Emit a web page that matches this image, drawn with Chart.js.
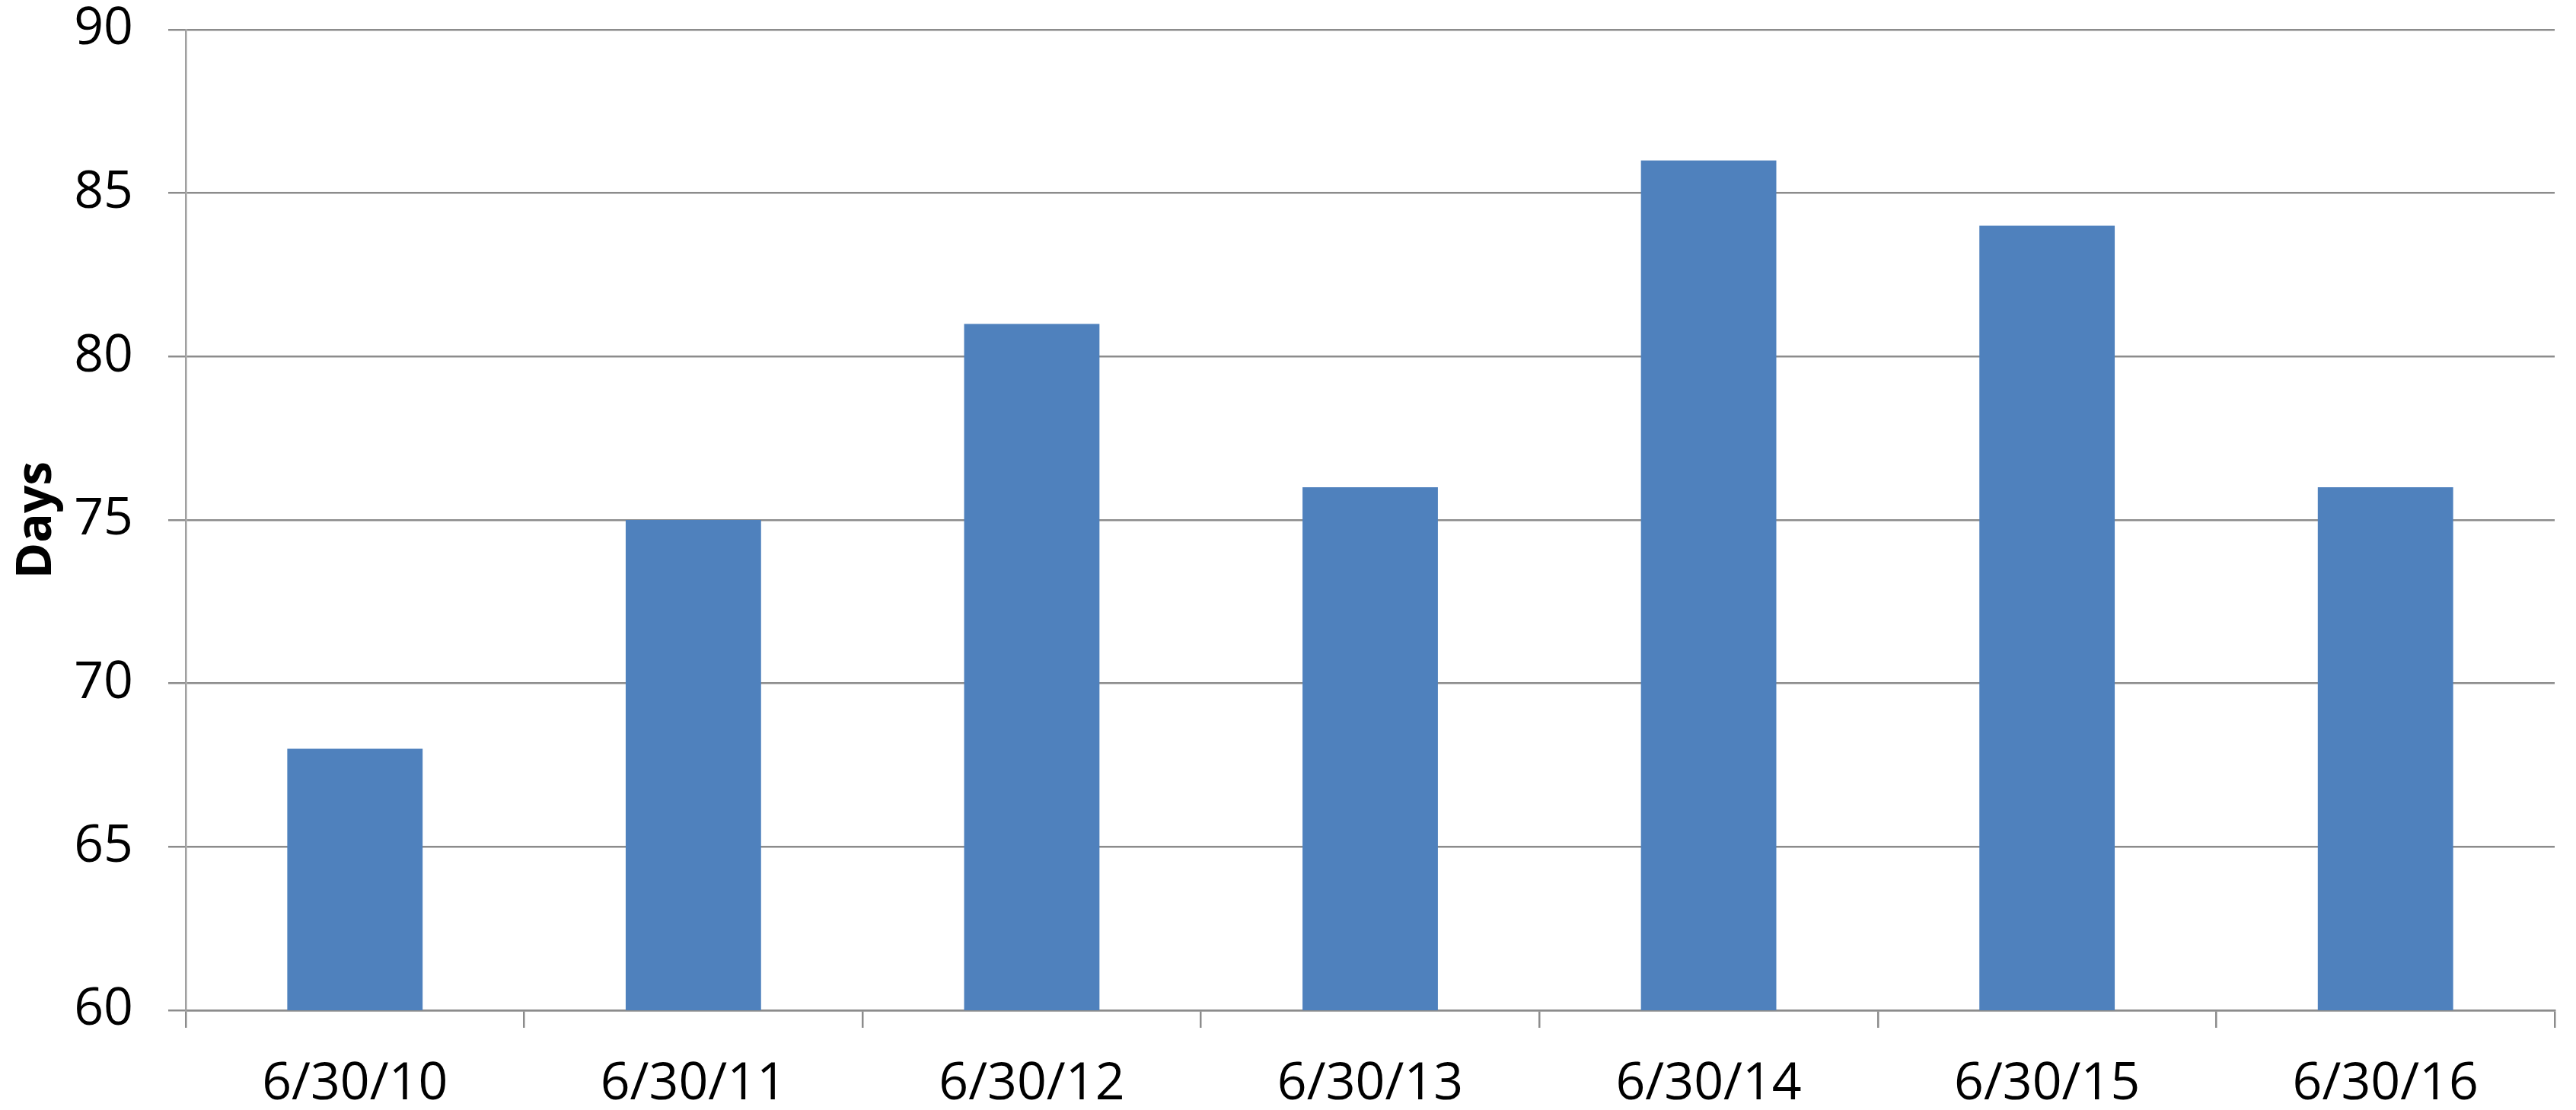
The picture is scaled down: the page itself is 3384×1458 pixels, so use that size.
<!DOCTYPE html>
<html>
<head>
<meta charset="utf-8">
<script src="https://cdn.jsdelivr.net/npm/chart.js@4"></script>
<style>
  html, body { margin: 0; padding: 0; background: #fff; }
  #wrap { width: 3384px; height: 1458px; }
</style>
</head>
<body>
<div id="wrap"><canvas id="chart" width="3384" height="1458"></canvas></div>
<script>
const categories = ['6/30/10', '6/30/11', '6/30/12', '6/30/13', '6/30/14', '6/30/15', '6/30/16'];
const days = [68, 75, 81, 76, 86, 84, 76];
const yTicks = [60, 65, 70, 75, 80, 85, 90];

const gridColor = '#8c8c8c';
const fontFamily = '"Open Sans", "Liberation Sans", sans-serif';

const config = {
    type: 'bar',
    data: {
        labels: categories,
        datasets: [
            {
                label: 'Days',
                data: days,
                backgroundColor: '#4f81bd',
                barPercentage: 0.4,
                categoryPercentage: 1.0
            }
        ]
    },
    options: {
        responsive: false,
        animation: false,
        layout: {
            padding: { top: 39, right: 28, left: 0, bottom: 0 }
        },
        scales: {
            x: {
                offset: true,
                grid: {
                    offset: true,
                    drawOnChartArea: false,
                    drawTicks: true,
                    tickLength: 23,
                    color: gridColor,
                    lineWidth: 2.5
                },
                border: { color: gridColor, width: 2.5 },
                ticks: {
                    color: '#000',
                    font: { family: fontFamily, size: 68 },
                    padding: 34,
                    maxRotation: 0
                },
                afterFit: scale => {
                    scale.height = 131;
                    scale.paddingLeft = 0;
                    scale.paddingRight = 0;
                }
            },
            y: {
                min: 60,
                max: 90,
                afterBuildTicks: scale => {
                    scale.ticks = yTicks.map(v => ({ value: v }));
                },
                grid: {
                    drawTicks: true,
                    tickLength: 23,
                    color: gridColor,
                    lineWidth: 2.5
                },
                border: { color: '#a0a0a0', width: 2.5 },
                ticks: {
                    color: '#000',
                    font: { family: fontFamily, size: 68 },
                    padding: 46
                },
                title: {
                    display: true,
                    text: 'Days',
                    color: '#000',
                    font: { family: fontFamily, size: 64, weight: 'bold' },
                    padding: { top: 10, bottom: 0 }
                },
                afterFit: scale => {
                    scale.width = 244;
                    scale.paddingTop = 0;
                    scale.paddingBottom = 0;
                }
            }
        },
        plugins: {
            legend: { display: false },
            tooltip: { enabled: false }
        }
    }
};

new Chart(document.getElementById('chart'), config);
</script>
</body>
</html>
